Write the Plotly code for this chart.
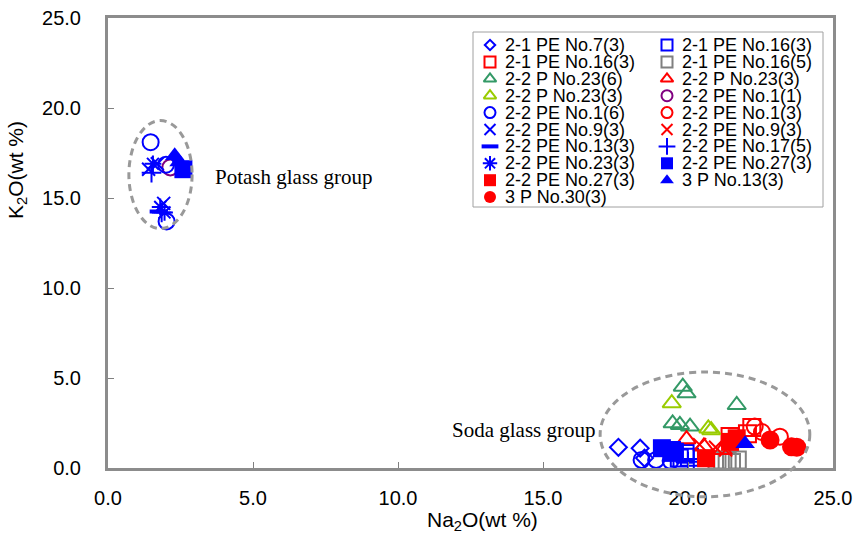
import plotly.graph_objects as go

# Axis ticks
x_ticks = [0, 5, 10, 15, 20, 25]
x_tick_labels = ["0.0", "5.0", "10.0", "15.0", "20.0", "25.0"]
y_ticks = [0, 5, 10, 15, 20, 25]
y_tick_labels = ["0.0", "5.0", "10.0", "15.0", "20.0", "25.0"]
x_range = [0, 25]
y_range = [0, 25]

# Sample series (legend order)
series_names = [
    "2-1 PE No.7(3)", "2-1 PE No.16(3)",
    "2-1 PE No.16(3)", "2-1 PE No.16(5)",
    "2-2 P No.23(6)", "2-2 P No.23(3)",
    "2-2 P No.23(3)", "2-2 PE No.1(1)",
    "2-2 PE No.1(6)", "2-2 PE No.1(3)",
    "2-2 PE No.9(3)", "2-2 PE No.9(3)",
    "2-2 PE No.13(3)", "2-2 PE No.17(5)",
    "2-2 PE No.23(3)", "2-2 PE No.27(3)",
    "2-2 PE No.27(3)", "3 P No.13(3)",
    "3 P No.30(3)",
]
series_colors = [
    "#0000ff", "#0000ff",
    "#ff0000", "#808080",
    "#339966", "#ff0000",
    "#99cc00", "#800080",
    "#0000ff", "#ff0000",
    "#0000ff", "#ff0000",
    "#0000ff", "#0000ff",
    "#0000ff", "#0000ff",
    "#ff0000", "#0000ff",
    "#ff0000",
]
series_symbols = [
    "diamond-open", "square-open",
    "square-open", "square-open",
    "triangle-up-open", "triangle-up-open",
    "triangle-up-open", "circle-open",
    "circle-open", "circle-open",
    "x-thin", "x-thin",
    "line-ew", "cross-thin",
    "asterisk", "square",
    "square", "triangle-up",
    "circle",
]

# Na2O (wt %) per series
series_na2o = [
    [17.6, 18.35, 18.5],
    [19.7, 19.9, 20.05],
    [21.45, 22.2, 22.05],
    [21.0, 21.2, 21.35, 21.5, 21.7],
    [19.82, 19.95, 21.68, 19.47, 19.72, 20.07],
    [19.95, 20.55, 21.2],
    [19.44, 20.7, 20.8],
    [2.15],
    [1.47, 2.0, 2.02, 18.4, 18.9, 19.4],
    [22.3, 22.55, 23.17],
    [1.4, 1.7, 1.92],
    [20.4, 20.95, 21.3],
    [1.75, 19.45, 19.9],
    [1.5, 1.85, 19.5, 20.0, 20.2],
    [1.55, 1.8, 1.95],
    [2.6, 19.1, 19.45, 19.55],
    [20.62, 21.68, 21.45],
    [2.3, 2.45, 21.97],
    [22.83, 23.57, 23.75],
]
# K2O (wt %) per series
series_k2o = [
    [1.15, 1.1, 0.55],
    [0.55, 0.8, 0.6],
    [1.75, 2.25, 1.9],
    [0.45, 0.35, 0.4, 0.3, 0.45],
    [4.52, 4.15, 3.5, 2.48, 2.39, 2.3],
    [1.6, 1.2, 1.0],
    [3.6, 2.2, 2.1],
    [16.7],
    [18.1, 16.85, 13.7, 0.45, 0.45, 0.4],
    [2.3, 2.0, 1.74],
    [16.6, 16.9, 14.7],
    [1.3, 1.15, 1.0],
    [14.25, 0.45, 0.35],
    [16.4, 14.2, 0.6, 0.35, 0.5],
    [16.9, 14.5, 14.2],
    [16.6, 1.1, 1.0, 0.9],
    [0.54, 1.65, 1.45],
    [17.35, 17.0, 1.35],
    [1.56, 1.18, 1.15],
]

# Group outlines (data-space bounds)
potash_box = {"x": [0.72, 2.9], "y": [13.3, 19.3]}
soda_box = {"x": [16.97, 24.2], "y": [-1.6, 5.33]}

SANS = "Liberation Sans, Arial, sans-serif"
SERIF = "Liberation Serif, Times New Roman, serif"

marker_size = {
    "diamond-open": 13, "square-open": 17, "triangle-up-open": 16,
    "circle-open": 16, "x-thin": 13, "line-ew": 13, "cross-thin": 14,
    "asterisk": 14, "square": 18, "triangle-up": 17, "circle": 19,
}
legend_size = {
    "diamond-open": 8, "square-open": 11, "triangle-up-open": 11,
    "circle-open": 11, "x-thin": 11, "line-ew": 12, "cross-thin": 12,
    "asterisk": 12, "square": 12, "triangle-up": 12, "circle": 12,
}


def marker_style(symbol, color, size):
    filled = symbol in ("square", "triangle-up", "circle")
    if symbol == "line-ew":
        lw = 4
    elif filled:
        lw = 0
    else:
        lw = 2
    return dict(symbol=symbol, size=size, color=color,
                line=dict(color=color, width=lw))


fig = go.Figure()

for name, color, sym, xs, ys in zip(series_names, series_colors, series_symbols,
                                    series_na2o, series_k2o):
    fig.add_trace(go.Scatter(
        x=xs, y=ys, mode="markers", name=name, showlegend=False,
        marker=marker_style(sym, color, marker_size[sym]),
    ))

# Two-column legend drawn on an overlay axis spanning the plot area
leg_left, leg_right, leg_top, leg_bottom = 473, 823, 32, 207
plot_l, plot_r, plot_t, plot_b = 108, 833, 18, 468
pw, ph = plot_r - plot_l, plot_b - plot_t


def px_to_paper(px, py):
    return (px - plot_l) / pw, (plot_b - py) / ph


col_marker_x = [490, 667]
col_text_x = [503, 680]
row_y0, row_step = 45, 16.9

for i, (name, color, sym) in enumerate(zip(series_names, series_colors, series_symbols)):
    col, row = i % 2, i // 2
    mx, my = px_to_paper(col_marker_x[col], row_y0 + row * row_step)
    tx, _ = px_to_paper(col_text_x[col], 0)
    fig.add_trace(go.Scatter(
        x=[mx], y=[my], xaxis="x2", yaxis="y2", mode="markers",
        showlegend=False, hoverinfo="skip", cliponaxis=False,
        marker=marker_style(sym, color, legend_size[sym]),
    ))
    fig.add_annotation(
        x=tx, y=my, xref="paper", yref="paper", text=name, showarrow=False,
        xanchor="left", yanchor="middle", font=dict(family=SANS, size=18, color="#000"),
    )

lx0, ly0 = px_to_paper(leg_left, leg_bottom)
lx1, ly1 = px_to_paper(leg_right, leg_top)
fig.add_shape(type="rect", xref="paper", yref="paper", x0=lx0, y0=ly0, x1=lx1, y1=ly1,
              line=dict(color="#a0a0a0", width=1))


def data_to_paper_x(v):
    return (v - x_range[0]) / (x_range[1] - x_range[0])


def data_to_paper_y(v):
    return (v - y_range[0]) / (y_range[1] - y_range[0])


for box in (potash_box, soda_box):
    fig.add_shape(
        type="circle", xref="paper", yref="paper",
        x0=data_to_paper_x(box["x"][0]), x1=data_to_paper_x(box["x"][1]),
        y0=data_to_paper_y(box["y"][0]), y1=data_to_paper_y(box["y"][1]),
        line=dict(color="#999999", width=3, dash="7px,5px"),
    )

# Group labels
gx, gy = px_to_paper(213, 177)
fig.add_annotation(x=gx, y=gy, xref="paper", yref="paper", text="Potash glass group",
                   showarrow=False, xanchor="left", yanchor="middle",
                   font=dict(family=SERIF, size=21, color="#000"))
sx, sy = px_to_paper(450, 430)
fig.add_annotation(x=sx, y=sy, xref="paper", yref="paper", text="Soda glass group",
                   showarrow=False, xanchor="left", yanchor="middle",
                   font=dict(family=SERIF, size=21, color="#000"))

# Axis titles
tx, ty = px_to_paper(482, 521)
fig.add_annotation(x=tx, y=ty, xref="paper", yref="paper", text="Na<sub>2</sub>O(wt %)",
                   showarrow=False, xanchor="center", yanchor="middle",
                   font=dict(family=SANS, size=21, color="#000"))
tx, ty = px_to_paper(17, 170)
fig.add_annotation(x=tx, y=ty, xref="paper", yref="paper", text="K<sub>2</sub>O(wt %)",
                   showarrow=False, xanchor="center", yanchor="middle", textangle=-90,
                   font=dict(family=SANS, size=21, color="#000"))

axis_common = dict(
    ticks="inside", ticklen=6, tickwidth=1, tickcolor="#808080",
    showline=True, mirror=True, linewidth=3, linecolor="#8c8c8c",
    showgrid=False, zeroline=False,
    tickfont=dict(family=SANS, size=20, color="#000"),
)

fig.update_layout(
    width=856, height=538,
    margin=dict(l=plot_l, r=856 - plot_r, t=plot_t, b=538 - plot_b, autoexpand=False),
    paper_bgcolor="white", plot_bgcolor="white",
    showlegend=False,
    xaxis=dict(range=x_range, tickvals=x_ticks, ticktext=x_tick_labels,
               ticklabelstandoff=10, **axis_common),
    yaxis=dict(range=y_range, tickvals=y_ticks, ticktext=y_tick_labels,
               ticklabelstandoff=20, **axis_common),
    xaxis2=dict(overlaying="x", range=[0, 1], visible=False),
    yaxis2=dict(overlaying="y", range=[0, 1], visible=False),
)

fig.write_html("out.html")
